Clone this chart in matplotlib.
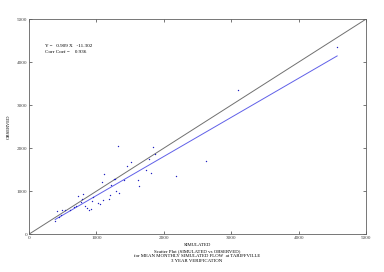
import numpy as np
import matplotlib
matplotlib.use("Agg")
import matplotlib.pyplot as plt

simulated = [388, 420, 450, 470, 494, 534, 604, 668, 702, 722, 772, 786, 806, 826,
             860, 890, 924, 930, 955, 1029, 1053, 1098, 1078, 1108, 1192, 1207, 1212,
             1261, 1276, 1296, 1316, 1331, 1405, 1449, 1513, 1613, 1632, 1731, 1780,
             1810, 1835, 1870, 2183, 2630, 3096, 4570]
observed = [312, 537, 388, 444, 551, 568, 568, 631, 661, 879, 748, 818, 935, 645,
            598, 568, 584, 778, 855, 724, 701, 785, 1215, 1393, 818, 902, 1145,
            1285, 1288, 995, 2040, 958, 1252, 1580, 1680, 1251, 1110, 1502, 1737,
            1432, 2035, 1872, 1358, 1712, 3340, 4350]
slope = 0.909
intercept = -11.302
corr_coef = 0.936
ticks = [0, 1000, 2000, 3000, 4000, 5000]

plt.rcParams["font.family"] = ["Liberation Serif", "DejaVu Serif"]

fig = plt.figure(figsize=(3.84, 2.72), dpi=100)
ax = fig.add_axes([0.0755, 0.139, 0.878, 0.791])

x = np.array(simulated)
y = np.array(observed)

ax.plot([0, 5000], [0, 5000], color="#707070", lw=0.7)
xr = np.array([x.min(), x.max()])
ax.plot(xr, slope * xr + intercept, color="#6060e8", lw=0.7)
ax.plot(x, y, ".", color="#2020c0", ms=2.0, mew=0)

ax.set_xlim(0, 5000)
ax.set_ylim(0, 5000)
ax.set_xticks(ticks)
ax.set_yticks(ticks)
ax.tick_params(direction="in", length=2, width=0.5, labelsize=3.7, pad=1.5,
               top=True, right=True, colors="#404040")
for s in ax.spines.values():
    s.set_linewidth(0.6)
    s.set_color("#606060")

ax.text(0.048, 0.872, f"Y =   {slope:.3f} X   {intercept:.3f}", transform=ax.transAxes,
        fontsize=3.7)
ax.text(0.048, 0.842, f"Corr Coef =    {corr_coef:.3f}", transform=ax.transAxes,
        fontsize=3.7)

ax.set_ylabel("OBSERVED", fontsize=3.4, labelpad=4)
fig.text(0.513, 0.097, "SIMULATED", ha="center", fontsize=3.5)
fig.text(0.513, 0.073, "Scatter Plot (SIMULATED vs OBSERVED)", ha="center", fontsize=3.5)
fig.text(0.513, 0.054, "for MEAN MONTHLY SIMULATED FLOW  at TARIFFVILLE", ha="center", fontsize=3.5)
fig.text(0.513, 0.035, "3 YEAR VERIFICATION", ha="center", fontsize=3.5)

fig.savefig("out.png", dpi=100)
